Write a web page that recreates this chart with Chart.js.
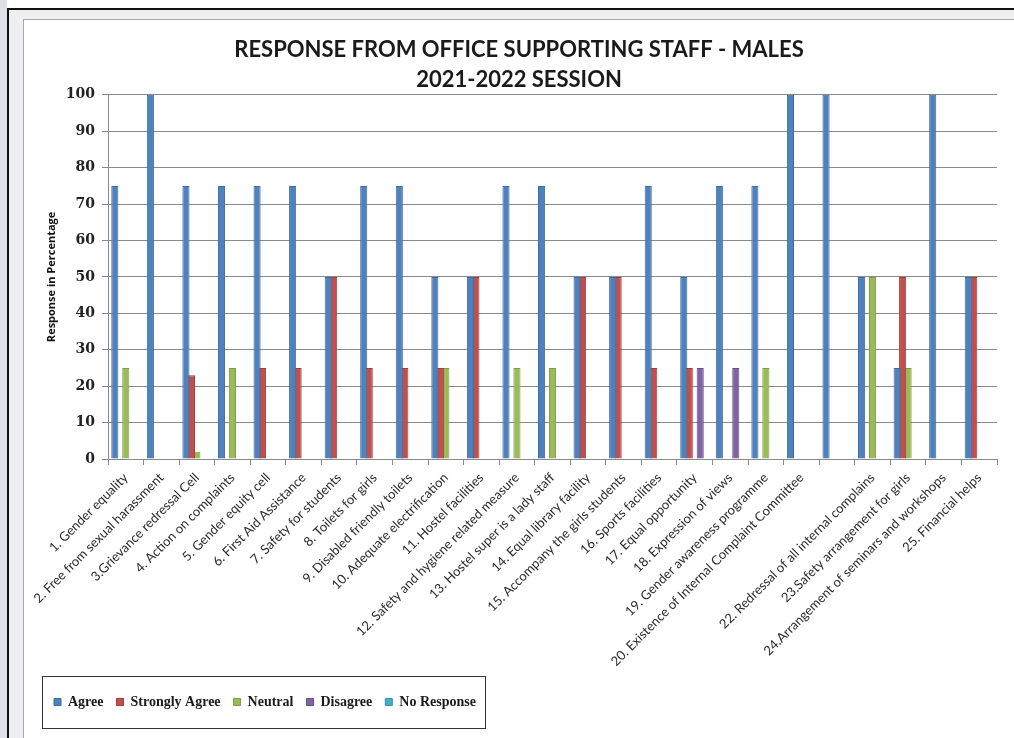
<!DOCTYPE html>
<html>
<head>
<meta charset="utf-8">
<script src="https://cdn.jsdelivr.net/npm/chart.js@4.4.1/dist/chart.umd.min.js"></script>
<style>
  html, body { margin: 0; padding: 0; background: #fff; }
  #strip { position: absolute; left: 0; top: 0; width: 7px; height: 738px; background: #dfdfe8; }
  #outer { position: absolute; left: 7px; top: 8px; width: 1005px; height: 728px;
           border-left: 2px solid #111; border-top: 2px solid #111; background: #efeff2; }
  #inner { position: absolute; left: 23px; top: 19px; width: 990px; height: 718px;
           border-left: 1px solid #a8a8a8; border-top: 1px solid #a8a8a8; background: #fff; }
  #wrap { position: absolute; left: 24px; top: 20px; width: 990px; height: 718px; }
</style>
</head>
<body>
<div id="strip"></div>
<div id="outer"></div>
<div id="inner"></div>
<div id="wrap"><canvas id="chart"></canvas></div>
<script>
const categories = [
  '1. Gender equality',
  '2. Free from sexual harassment',
  '3.Grievance redressal Cell',
  '4. Action on complaints',
  '5. Gender equity cell',
  '6. First Aid Assistance',
  '7. Safety for students',
  '8. Toilets for girls',
  '9. Disabled friendly toilets',
  '10. Adequate electrification',
  '11. Hostel facilities',
  '12. Safety and hygiene related measure',
  '13. Hostel super is a lady staff',
  '14. Equal library facility',
  '15. Accompany the girls students',
  '16. Sports facilities',
  '17. Equal opportunity',
  '18. Expression of views',
  '19. Gender awareness programme',
  '20. Existence of Internal Complaint Committee',
  '',
  '22. Redressal of all internal complains',
  '23.Safety arrangement for girls',
  '24.Arrangement of seminars and workshops',
  '25. Financial helps'
];

const agree         = [75, 100, 75, 75, 75, 75, 50, 75, 75, 50, 50, 75, 75, 50, 50, 75, 50, 75, 75, 100, 100, 50, 25, 100, 50];
const stronglyAgree = [0, 0, 23, 0, 25, 25, 50, 25, 25, 25, 50, 0, 0, 50, 50, 25, 25, 0, 0, 0, 0, 0, 50, 0, 50];
const neutral       = [25, 0, 2, 25, 0, 0, 0, 0, 0, 25, 0, 25, 25, 0, 0, 0, 0, 0, 25, 0, 0, 50, 25, 0, 0];
const disagree      = [0, 0, 0, 0, 0, 0, 0, 0, 0, 0, 0, 0, 0, 0, 0, 0, 25, 25, 0, 0, 0, 0, 0, 0, 0];
const noResponse    = [0, 0, 0, 0, 0, 0, 0, 0, 0, 0, 0, 0, 0, 0, 0, 0, 0, 0, 0, 0, 0, 0, 0, 0, 0];

const yTicks = [0, 10, 20, 30, 40, 50, 60, 70, 80, 90, 100];

function series(label, values, fill, edge) {
  return {
    label: label,
    data: values,
    backgroundColor: fill,
    borderColor: edge,
    borderWidth: 1,
    categoryPercentage: 0.77,
    barPercentage: 1.3
  };
}

// box drawn round the legend, like the Excel one
const legendBox = {
  id: 'legendBox',
  afterDraw(chart) {
    const hb = chart.legend.legendHitBoxes;
    if (!hb || !hb.length) return;
    const last = hb[hb.length - 1];
    const cy = hb[0].top + hb[0].height / 2;
    const ctx = chart.ctx;
    ctx.save();
    ctx.strokeStyle = '#333';
    ctx.lineWidth = 1;
    ctx.strokeRect(Math.round(hb[0].left - 12) + 0.5, Math.round(cy - 26) + 0.5,
                   Math.round(last.left + last.width + 9 - (hb[0].left - 12)), 52);
    ctx.restore();
  }
};

new Chart(document.getElementById('chart'), {
  type: 'bar',
  data: {
    labels: categories,
    datasets: [
      series('Agree', agree, '#4f81bd', '#3c6aa3'),
      series('Strongly Agree', stronglyAgree, '#c0504d', '#a03c3a'),
      series('Neutral', neutral, '#9bbb59', '#7f9e42'),
      series('Disagree', disagree, '#8064a2', '#664f86'),
      series('No Response', noResponse, '#4bacc6', '#3590a8')
    ]
  },
  options: {
    responsive: true,
    maintainAspectRatio: false,
    animation: false,
    layout: { padding: { left: 17, right: 17, top: 0, bottom: 19 } },
    plugins: {
      title: {
        display: true,
        text: ['RESPONSE FROM OFFICE SUPPORTING STAFF - MALES', '2021-2022 SESSION'],
        color: '#1a1a1a',
        font: { family: 'Lato', size: 22, weight: 'bold', lineHeight: 1.36 },
        padding: { top: 15, bottom: 0 }
      },
      legend: {
        position: 'bottom',
        align: 'start',
        labels: {
          color: '#1a1a1a',
          font: { family: 'Liberation Serif', size: 14, weight: 'bold' },
          boxWidth: 7,
          boxHeight: 7,
          padding: 13
        }
      },
      tooltip: { enabled: false }
    },
    scales: {
      x: {
        afterFit: s => { s.height = 223; },
        grid: { display: true, drawOnChartArea: false, offset: true, color: '#8a8a8a', tickLength: 6 },
        border: { color: '#8a8a8a' },
        ticks: {
          autoSkip: false,
          minRotation: 45,
          maxRotation: 45,
          padding: 5,
          color: '#2a2a2a',
          font: { family: 'Lato', size: 13 }
        }
      },
      y: {
        min: 0,
        max: 100,
        afterFit: s => { s.width = 67; },
        afterBuildTicks: s => { s.ticks = yTicks.map(v => ({ value: v })); },
        grid: { color: '#8a8a8a', tickLength: 6 },
        border: { color: '#8a8a8a' },
        title: {
          display: true,
          text: 'Response in Percentage',
          color: '#111',
          font: { family: 'Open Sans', size: 11, weight: 'bold' }
        },
        ticks: {
          padding: 7,
          color: '#222',
          font: { family: 'DejaVu Serif', size: 14, weight: 'bold' }
        }
      }
    }
  },
  plugins: [legendBox]
});
</script>
</body>
</html>
